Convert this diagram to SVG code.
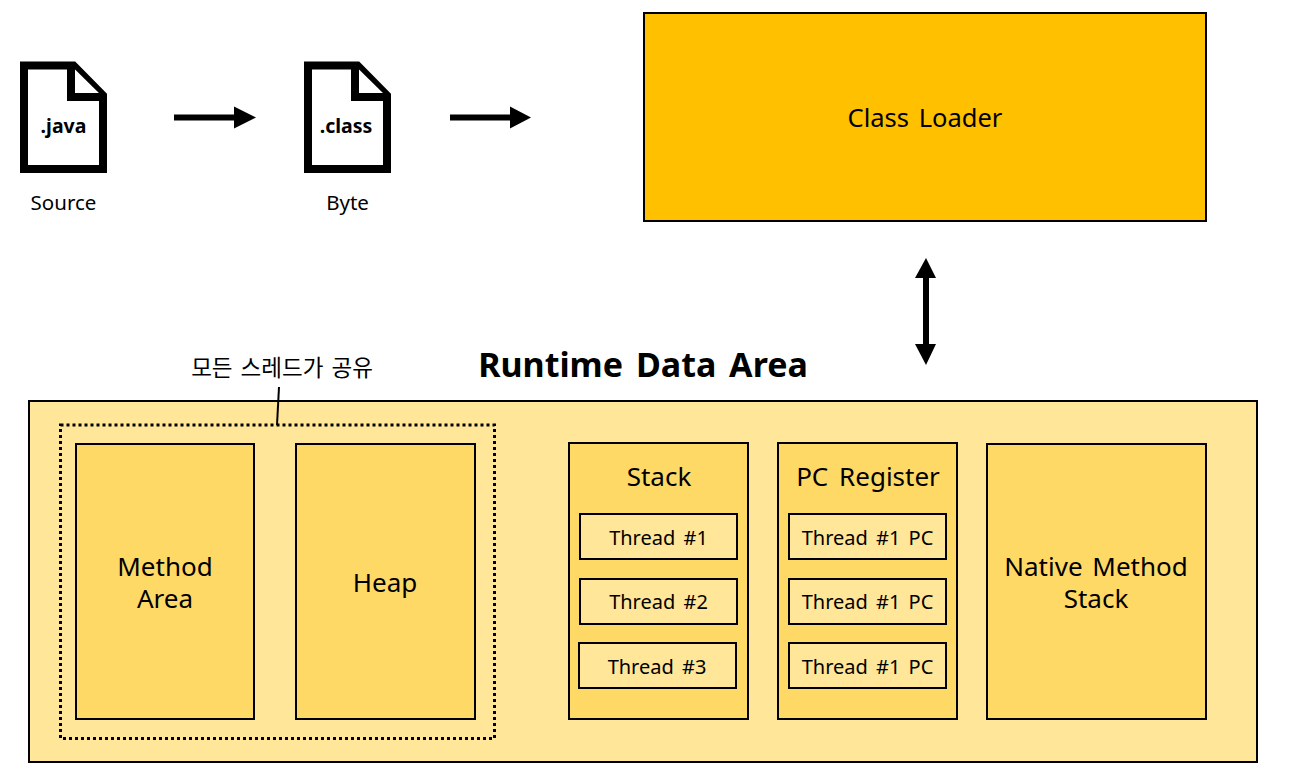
<svg xmlns="http://www.w3.org/2000/svg" width="1292" height="777" viewBox="0 0 1292 777">
<style>
text{font-family:"Noto Sans","Noto Sans CJK KR",sans-serif;fill:#000;text-anchor:middle}
.b{stroke:#000;stroke-width:2}
.o{fill:#ffc000}.l{fill:#ffe699}.m{fill:#ffd966}
.t{font-size:20px;word-spacing:3px}
.h{font-size:26px;word-spacing:3px}
.s{font-size:20.5px}
.c{stroke:#000;stroke-width:6;fill:none}
.doc{fill:#fff;stroke:#000;stroke-width:8;stroke-linejoin:miter}
.arrow{fill:#000}
</style>
<defs>
<g id="doc"><path class="doc" d="M24 65.500H73.500L103 95.500V169H24Z"/><path class="doc" d="M71 65.500V97H103" fill="none"/></g>
</defs>
<g id="source"><use href="#doc"/><text x="63.500" y="133" font-size="19.500" font-weight="700">.java</text><text x="63.500" y="210" class="s">Source</text></g>
<g id="byte"><use href="#doc" x="284"/><text x="346" y="133" font-size="19.500" font-weight="700">.class</text><text x="347.500" y="210" class="s">Byte</text></g>
<g id="class-loader"><rect class="b o" x="644" y="13" width="562" height="208"/><text x="925" y="127" font-size="25.500" word-spacing="3">Class Loader</text></g>
<g id="title"><text x="643" y="377" font-size="34" font-weight="700" word-spacing="4">Runtime Data Area</text></g>
<g id="runtime-data-area"><rect class="b l" x="29" y="401" width="1228" height="361"/></g>
<g id="shared-label"><text x="282" y="376" font-size="22.500" word-spacing="3" style="font-family:'Noto Sans CJK KR',sans-serif">모든 스레드가 공유</text></g>
<g id="method-area"><rect class="b m" x="76" y="444" width="178" height="275"/><text x="165" y="576" class="h">Method</text><text x="165" y="608" class="h">Area</text></g>
<g id="heap"><rect class="b m" x="296" y="444" width="179" height="275"/><text x="385" y="592" class="h">Heap</text></g>
<g id="stack"><rect class="b m" x="569" y="443" width="179" height="276"/><text x="659" y="486" class="h">Stack</text>
<rect class="b l" x="580" y="514" width="157" height="45"/><text x="658.500" y="545" class="t">Thread #1</text>
<rect class="b l" x="580" y="579" width="157" height="45"/><text x="658.500" y="609" class="t">Thread #2</text>
<rect class="b l" x="579" y="643" width="157" height="45"/><text x="657" y="674" class="t">Thread #3</text></g>
<g id="pc-register"><rect class="b m" x="778" y="443" width="179" height="276"/><text x="868" y="486" class="h" style="word-spacing:4px">PC Register</text>
<rect class="b l" x="789" y="514" width="157" height="45"/><text x="867.500" y="545" class="t">Thread #1 PC</text>
<rect class="b l" x="789" y="579" width="157" height="45"/><text x="867.500" y="609" class="t">Thread #1 PC</text>
<rect class="b l" x="789" y="643" width="157" height="45"/><text x="867.500" y="674" class="t">Thread #1 PC</text></g>
<g id="native-method-stack"><rect class="b m" x="987" y="444" width="219" height="275"/><text x="1096" y="576" class="h">Native Method</text><text x="1096" y="608" class="h">Stack</text></g>
<g id="connectors">
<rect x="60.500" y="425" width="434" height="313.500" fill="none" stroke="#000" stroke-width="3" stroke-dasharray="3 3"/>
<path d="M279 387L277 425" stroke="#000" stroke-width="2" fill="none"/>
<path class="c" d="M174 117.500H236"/><path class="arrow" d="M234 106.500L256 117.500L234 128.500Z"/>
<path class="c" d="M450 117.500H512"/><path class="arrow" d="M510 106.500L531 117.500L510 128.500Z"/>
<path class="c" d="M926 276V346"/><path class="arrow" d="M915 278L926 258L936 278ZM915 344L926 365L936 344Z"/>
</g>
</svg>
